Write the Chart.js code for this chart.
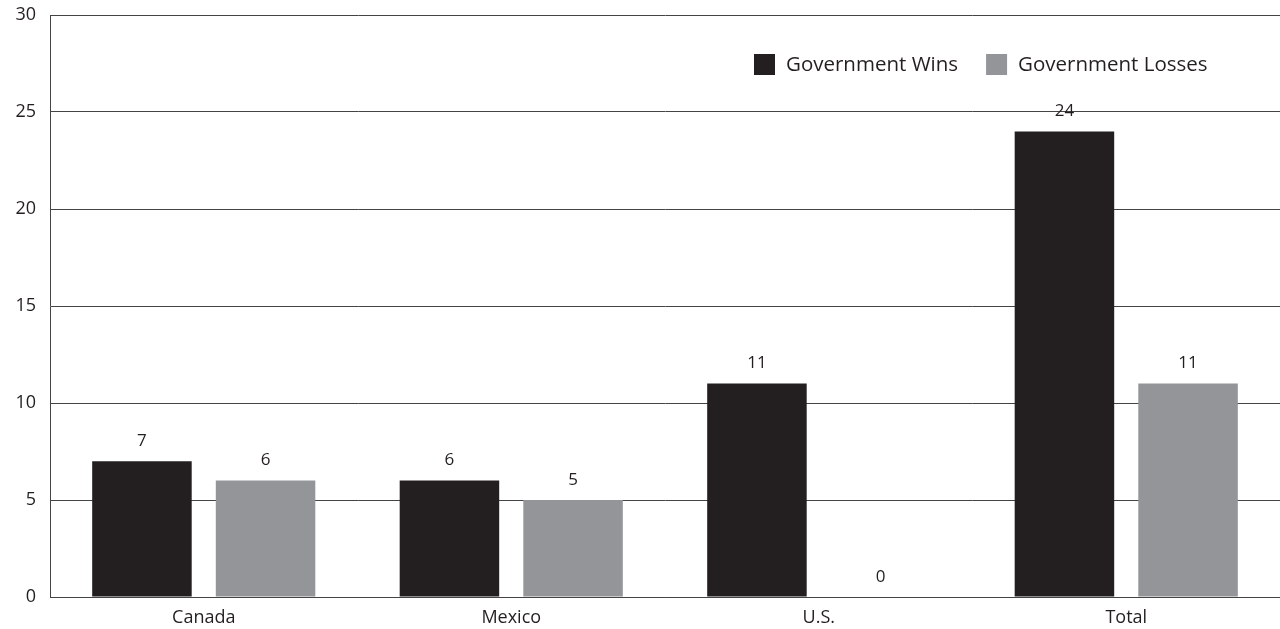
<!DOCTYPE html>
<html>
<head>
<meta charset="utf-8">
<script src="https://cdn.jsdelivr.net/npm/chart.js@4/dist/chart.umd.min.js"></script>
<style>
  html, body { margin: 0; padding: 0; background: #fff; }
  #wrap { width: 1280px; height: 629px; }
</style>
</head>
<body>
<div id="wrap"><canvas id="chart"></canvas></div>
<script>
const categories = ['Canada', 'Mexico', 'U.S.', 'Total'];
const wins = [7, 6, 11, 24];
const losses = [6, 5, 0, 11];
const yTicks = [0, 5, 10, 15, 20, 25, 30];

const textColor = '#231f20';
const fontFamily = '"Open Sans", "Noto Sans", sans-serif';

// numbers above each bar
const barLabels = {
  id: 'barLabels',
  afterDatasetsDraw(chart) {
    const ctx = chart.ctx;
    ctx.save();
    ctx.fillStyle = textColor;
    ctx.font = '17px ' + fontFamily;
    ctx.textAlign = 'center';
    ctx.textBaseline = 'middle';
    chart.data.datasets.forEach((ds, i) => {
      chart.getDatasetMeta(i).data.forEach((bar, j) => {
        ctx.fillText(String(ds.data[j]), bar.x, bar.y - 20);
      });
    });
    ctx.restore();
  }
};

// legend drawn inside the plot, top right
const innerLegend = {
  id: 'innerLegend',
  afterDraw(chart) {
    const ctx = chart.ctx;
    ctx.save();
    ctx.font = '20.5px ' + fontFamily;
    ctx.textBaseline = 'middle';
    let x = 754;
    const y = 65;
    chart.data.datasets.forEach((ds) => {
      ctx.fillStyle = ds.backgroundColor;
      ctx.fillRect(x, y - 11, 21, 21);
      ctx.fillStyle = textColor;
      ctx.fillText(ds.label, x + 32, y);
      x += 32 + ctx.measureText(ds.label).width + 28;
    });
    ctx.restore();
  }
};

new Chart(document.getElementById('chart'), {
  type: 'bar',
  data: {
    labels: categories,
    datasets: [
      { label: 'Government Wins', data: wins, backgroundColor: '#231f20' },
      { label: 'Government Losses', data: losses, backgroundColor: '#939598' }
    ]
  },
  options: {
    responsive: true,
    maintainAspectRatio: false,
    animation: false,
    layout: { padding: { top: 15, right: 0, left: 0, bottom: 0 } },
    datasets: { bar: { categoryPercentage: 0.804, barPercentage: 0.805 } },
    plugins: {
      legend: { display: false },
      tooltip: { enabled: false }
    },
    scales: {
      x: {
        grid: { display: false },
        border: { display: true, color: '#444', width: 1 },
        ticks: { color: textColor, font: { family: fontFamily, size: 18 }, padding: 2 },
        afterFit(s) { s.height = 32; s.paddingLeft = 0; s.paddingRight = 0; }
      },
      y: {
        min: 0,
        max: 30,
        afterBuildTicks(s) { s.ticks = yTicks.map(v => ({ value: v })); },
        grid: { color: '#444', lineWidth: 1, drawTicks: false },
        border: { display: true, color: '#444', width: 1 },
        ticks: { color: textColor, font: { family: fontFamily, size: 18 }, padding: 14 },
        afterFit(s) { s.width = 50; s.paddingTop = 0; s.paddingBottom = 0; }
      }
    }
  },
  plugins: [barLabels, innerLegend]
});
</script>
</body>
</html>
